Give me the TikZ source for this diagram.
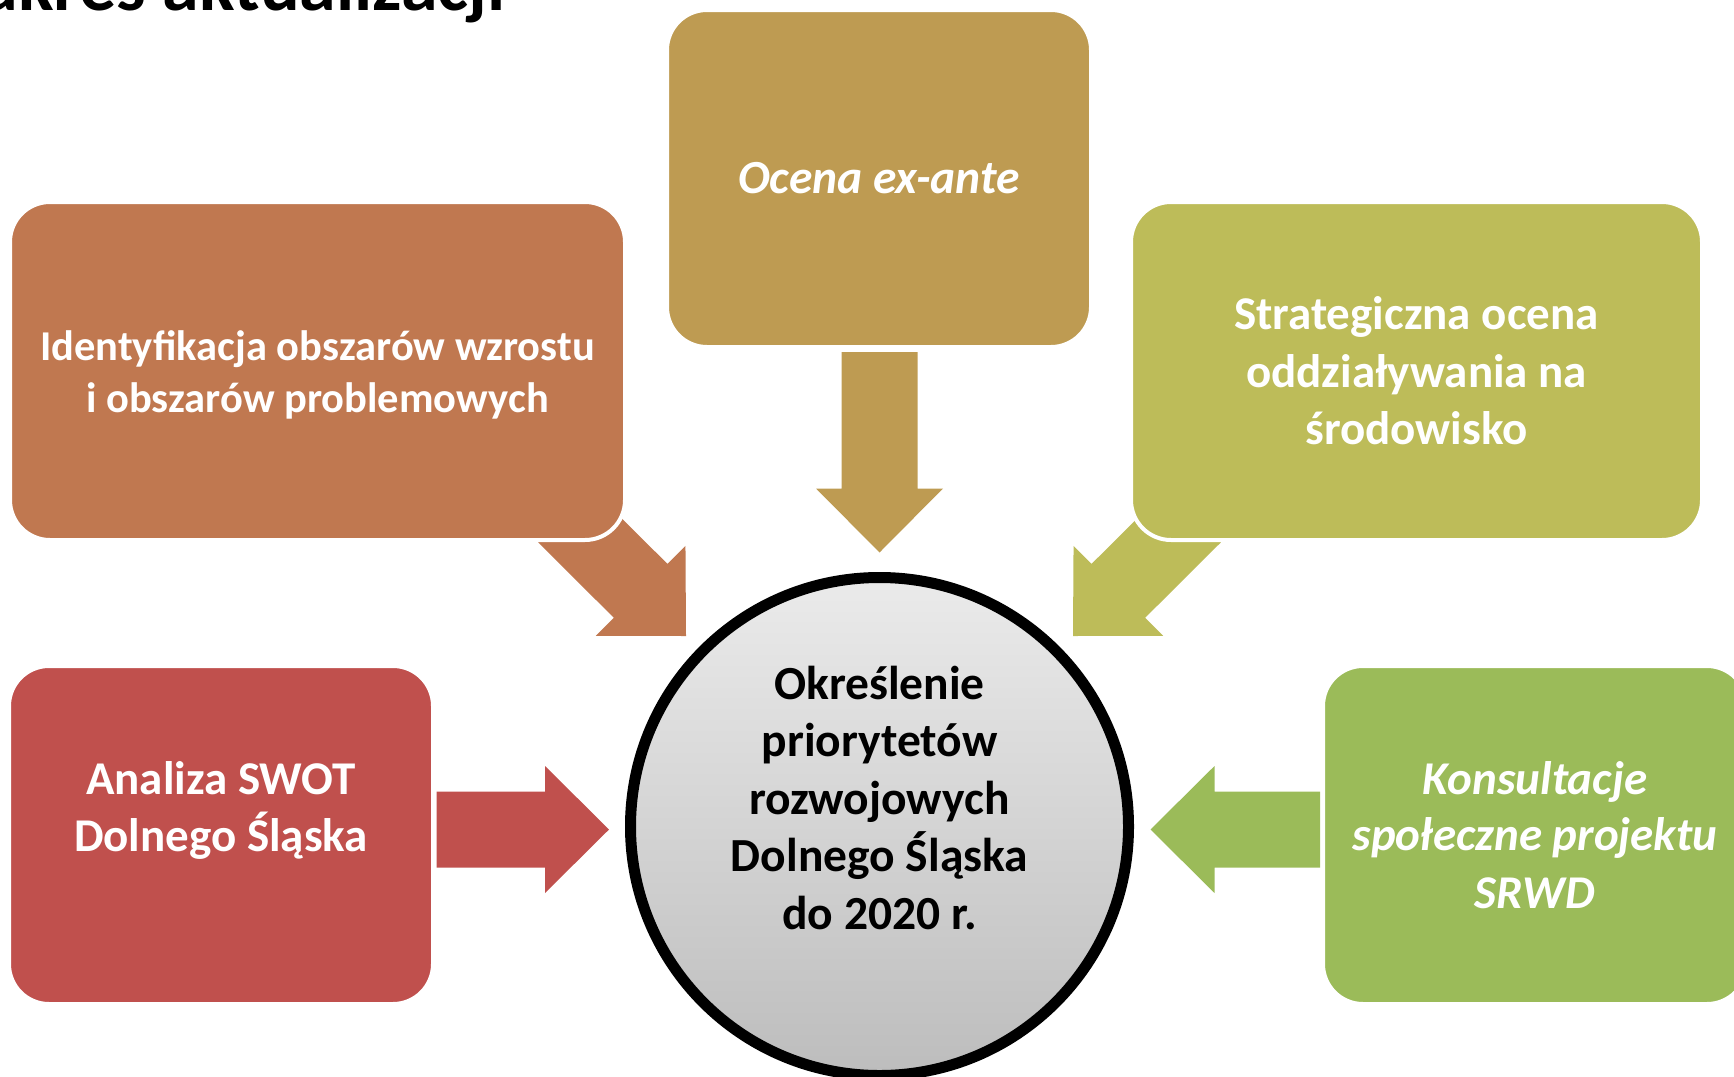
\documentclass[tikz,border=0pt]{standalone}
\usepackage{fontspec}
\setmainfont{Carlito}
\usepackage{tikz}
\usetikzlibrary{calc,backgrounds}

\definecolor{identc}{RGB}{192,120,80}
\definecolor{exantec}{RGB}{190,155,82}
\definecolor{stratc}{RGB}{189,188,89}
\definecolor{swotc}{RGB}{192,80,77}
\definecolor{konsc}{RGB}{155,187,89}

\begin{document}
\begin{tikzpicture}[
  x=1pt, y=-1pt,
  box/.style={rectangle, rounded corners=40pt, draw=white, line width=4pt,
              text=white, align=center, inner sep=0pt,
              font=\fontsize{47}{57.5}\selectfont\bfseries,
              minimum width=424pt, minimum height=338pt},
  hub/.style={circle, draw=black, line width=11pt, minimum size=498pt,
              top color=black!8, bottom color=black!26, inner sep=0pt,
              align=center, font=\fontsize{47.5}{57.5}\selectfont\bfseries},
]
\useasboundingbox (0,0) rectangle (1734,1076);
\clip (0,0) rectangle (1734,1076);

% title, cut at the top edge
\node[anchor=base east, inner sep=0pt, font=\fontsize{74}{80}\selectfont\bfseries]
  (title) at (506,10) {Zakres aktualizacji};

% boxes
\node[box, fill=identc, minimum width=615pt,
      font=\fontsize{42.5}{52}\selectfont\bfseries] (ident) at (317.5,371)
  {\rule{0pt}{38pt}Identyfikacja obszarów wzrostu\\i obszarów problemowych};
\node[box, fill=exantec, minimum height=337pt, font=\fontsize{47.5}{57.5}\selectfont\bfseries\itshape]
  (exante) at (879,178.5) {\raisebox{-2pt}{Ocena ex-ante}};
\node[box, fill=stratc, minimum width=571pt] (strat) at (1416.5,371)
  {Strategiczna ocena\\oddziaływania na\\środowisko};
\node[box, fill=swotc] (swot) at (221,835) {Analiza SWOT\\Dolnego Śląska\\\mbox{}};
\node[box, fill=konsc, font=\fontsize{47}{57.5}\selectfont\bfseries\itshape]
  (kons) at (1535,835) {\raisebox{-1pt}{Konsultacje}\\społeczne projektu\\SRWD};

% centre
\node[hub] (prio) at (879.5,826.5)
  {Określenie\\priorytetów\\rozwojowych\\Dolnego Śląska\\do 2020 r.\\\mbox{}};

% arrow ends
\coordinate (exT) at (879.5,352);   \coordinate (exP) at (879.5,552.5);
\coordinate (swT) at (436.5,829.5); \coordinate (swP) at (609,829.5);
\coordinate (koT) at (1320,829.5);  \coordinate (koP) at (1150.5,829.5);
\coordinate (idT) at (565,515.5);   \coordinate (idP) at (686,636);
\coordinate (stT) at (1194,515.5);  \coordinate (stP) at (1073,636);

% block arrows
\begin{scope}[on background layer]
\foreach \t/\p/\c in {exT/exP/exantec, swT/swP/swotc, koT/koP/konsc,
                      idT/idP/identc, stT/stP/stratc}{
  \coordinate (hb) at ($(\p)!64pt!(\t)$);
  \fill[\c] ($(\t)!38pt!90:(\p)$) -- ($(hb)!38pt!90:(\p)$)
    -- ($(hb)!63.5pt!90:(\p)$) -- (\p) -- ($(hb)!63.5pt!-90:(\p)$)
    -- ($(hb)!38pt!-90:(\p)$) -- ($(\t)!38pt!-90:(\p)$) -- cycle;
}
\end{scope}
\end{tikzpicture}
\end{document}
